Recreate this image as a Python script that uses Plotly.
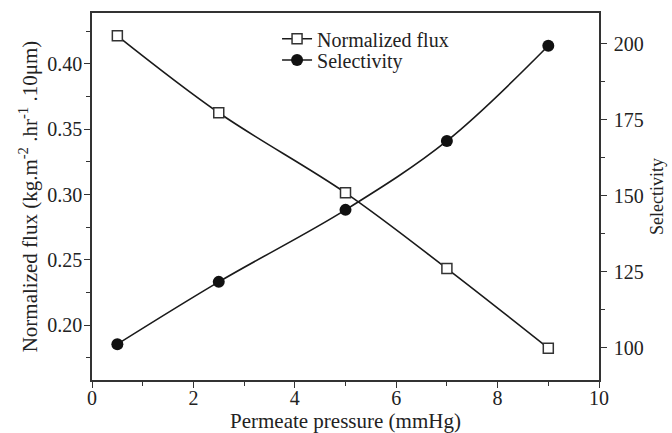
import plotly.graph_objects as go

pressure = [0.5, 2.5, 5, 7, 9]
norm_flux = [0.4215, 0.3626, 0.3013, 0.2433, 0.1824]
selectivity = [101.2, 121.7, 145.4, 168.1, 199.4]

FONT = "Liberation Serif"

fig = go.Figure()
fig.add_trace(go.Scatter(
    x=pressure, y=norm_flux, name="Normalized flux", mode="lines+markers",
    line=dict(color="#1a1a1a", width=1.6, shape="spline"),
    marker=dict(symbol="square", size=10, color="white",
                line=dict(color="#333333", width=1.5)),
    yaxis="y", legend="legend"))
fig.add_trace(go.Scatter(
    x=pressure, y=selectivity, name="Selectivity", mode="lines+markers",
    line=dict(color="#1a1a1a", width=1.6, shape="spline"),
    marker=dict(symbol="circle", size=12, color="#111111"),
    yaxis="y2", legend="legend2"))

axis_common = dict(showgrid=False, zeroline=False, showline=True, automargin=False,
                   linecolor="#333333", linewidth=1.5, ticks="outside",
                   tickcolor="#333333", tickwidth=1.3, ticklen=6,
                   tickfont=dict(family=FONT, size=20, color="#222222"))

leg_common = dict(xanchor="left", yanchor="middle", bgcolor="rgba(0,0,0,0)",
                  font=dict(family=FONT, size=20, color="#222222"), itemwidth=30)

fig.update_layout(
    width=672, height=433,
    margin=dict(l=92, r=73, t=13, b=53),
    paper_bgcolor="white", plot_bgcolor="white",
    font=dict(family=FONT, size=20, color="#222222"),
    showlegend=True,
    legend=dict(x=0.365, y=0.93, **leg_common),
    legend2=dict(x=0.365, y=0.872, **leg_common),
    xaxis=dict(range=[0, 10], dtick=2, tick0=0, mirror=True, ticklabelstandoff=-7,
               minor=dict(dtick=1, ticks="outside", ticklen=4, tickcolor="#333333"),
               **axis_common),
    yaxis=dict(range=[0.158, 0.439], dtick=0.05, tick0=0.2, tickformat=".2f",
               ticklabelstandoff=-2,
               minor=dict(dtick=0.025, ticks="outside", ticklen=4, tickcolor="#333333"),
               title=dict(text="Normalized flux (kg.m<sup>-2</sup> .hr<sup>-1</sup> .10μm)",
                          font=dict(family=FONT, size=21), standoff=4),
               **axis_common),
    yaxis2=dict(range=[89.4, 210.2], dtick=25, tick0=100, overlaying="y", side="right",
                ticklabelstandoff=3,
                minor=dict(dtick=12.5, ticks="outside", ticklen=4, tickcolor="#333333"),
                title=dict(text="Selectivity", font=dict(family=FONT, size=18), standoff=8),
                **axis_common),
    annotations=[dict(text="Permeate pressure (mmHg)", xref="paper", yref="paper",
                      x=0.5, y=0, xanchor="center", yanchor="middle", yshift=-41,
                      showarrow=False, font=dict(family=FONT, size=21, color="#222222"))],
)

fig.write_html("out.html")
